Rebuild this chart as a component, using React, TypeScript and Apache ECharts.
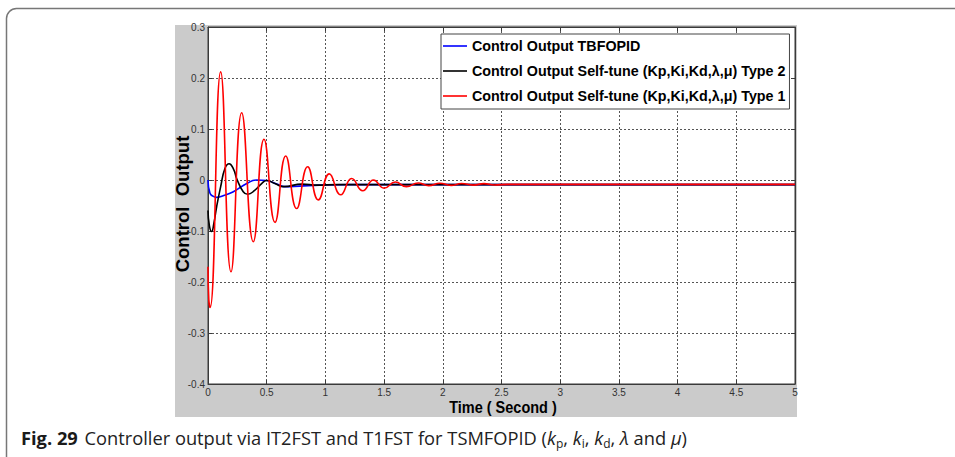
import React, { useEffect, useRef } from "react";
import * as echarts from "echarts";

const SANS = '"Liberation Sans", Arial, sans-serif';
const CAPTION_FONT = '"Open Sans", "Noto Sans", sans-serif';

const xRange = [0, 5];
const xStep = 0.5;
const yRange = [-0.4, 0.3];
const yStep = 0.1;

const seriesNames = [
  "Control Output TBFOPID",
  "Control Output Self-tune (Kp,Ki,Kd,\u03bb,\u03bc) Type 2",
  "Control Output Self-tune (Kp,Ki,Kd,\u03bb,\u03bc) Type 1",
];

// TBFOPID (blue)
const tbfopidPoints: [number, number][] = [
  [0, 0], [0.017, -0.026], [0.045, -0.032], [0.074, -0.034], [0.14, -0.03],
  [0.216, -0.023], [0.33, -0.007], [0.415, 0.0], [0.5, -0.001], [0.585, -0.008],
  [0.656, -0.013], [0.78, -0.012], [0.95, -0.01], [1.2, -0.009], [5, -0.009],
];

// Self-tune Type 2 (black)
const type2Points: [number, number][] = [
  [0, -0.06], [0.012, -0.09], [0.031, -0.101], [0.05, -0.085], [0.074, -0.052],
  [0.108, -0.013], [0.145, 0.023], [0.18, 0.032], [0.22, 0.02], [0.244, 0.003],
  [0.3, -0.023], [0.338, -0.028], [0.4, -0.02], [0.457, -0.007], [0.5, -0.001],
  [0.57, -0.007], [0.645, -0.013], [0.8, -0.008], [0.93, -0.01], [1.1, -0.009],
  [1.5, -0.009], [5, -0.009],
];

// Self-tune Type 1 (red)
const type1Points: [number, number][] = [
  [0, -0.17], [0.007, -0.235], [0.018, -0.25], [0.108, 0.212], [0.196, -0.18],
  [0.287, 0.132], [0.386, -0.121], [0.477, 0.08], [0.571, -0.083], [0.662, 0.047],
  [0.755, -0.056], [0.849, 0.026], [0.94, -0.039], [1.033, 0.012], [1.13, -0.029],
  [1.224, 0.003], [1.318, -0.021], [1.41, 0.0], [1.5, -0.016], [1.596, -0.004],
  [1.69, -0.013], [1.79, -0.006], [1.88, -0.011], [1.975, -0.0065], [2.07, -0.0105],
  [2.16, -0.007], [2.26, -0.01], [2.35, -0.0072], [2.44, -0.0098], [2.55, -0.0085],
  [5, -0.0085],
];

const seriesColors = ["#0000ff", "#000000", "#ff0000"];

export default function App() {
  const ref = useRef<HTMLDivElement>(null);
  useEffect(() => {
    if (!ref.current) return;
    const chart = echarts.init(ref.current, undefined, { renderer: "svg" });
    const axisColor = "#3a3a3a";
    const gridLine = { show: true, lineStyle: { color: "#555", type: [2, 2], width: 1 } };
    const baseX = {
      type: "value",
      min: xRange[0],
      max: xRange[1],
      interval: xStep,
      axisLine: { show: true, onZero: false, lineStyle: { color: axisColor } },
      axisTick: { show: true, inside: true, length: 4, lineStyle: { color: axisColor } },
    };
    const baseY = {
      type: "value",
      min: yRange[0],
      max: yRange[1],
      interval: yStep,
      axisLine: { show: true, onZero: false, lineStyle: { color: axisColor } },
      axisTick: { show: true, inside: true, length: 4, lineStyle: { color: axisColor } },
    };
    const datasets = [tbfopidPoints, type2Points, type1Points];
    chart.setOption({
      animation: false,
      backgroundColor: "#ffffff",
      grid: {
        left: 208, top: 27, right: 160, bottom: 73,
        show: true, backgroundColor: "#ffffff", borderColor: axisColor, borderWidth: 1,
      },
      xAxis: [
        {
          ...baseX,
          position: "bottom",
          axisLabel: { color: "#333", fontSize: 10, margin: 3, fontFamily: SANS },
          splitLine: gridLine,
        },
        { ...baseX, position: "top", axisLabel: { show: false }, splitLine: { show: false } },
      ],
      yAxis: [
        {
          ...baseY,
          position: "left",
          axisLabel: { color: "#333", fontSize: 10, margin: 3, fontFamily: SANS },
          splitLine: gridLine,
        },
        { ...baseY, position: "right", axisLabel: { show: false }, splitLine: { show: false } },
      ],
      legend: {
        orient: "vertical",
        left: 441,
        top: 34,
        padding: [5, 4, 6, 2],
        itemGap: 11,
        itemWidth: 24,
        itemHeight: 14,
        backgroundColor: "#ffffff",
        borderColor: "#444",
        borderWidth: 1,
        borderRadius: 0,
        textStyle: { fontFamily: SANS, fontWeight: "bold", fontSize: 14.3, color: "#000" },
        data: seriesNames.map((name) => ({ name, icon: "path://M0,0H24V1.6H0Z" })),
      },
      series: seriesNames.map((name, i) => ({
        name,
        type: "line",
        data: datasets[i],
        xAxisIndex: 0,
        yAxisIndex: 0,
        smooth: 0.5,
        symbol: "none",
        lineStyle: { color: seriesColors[i], width: 1.6 },
        itemStyle: { color: seriesColors[i] },
        z: 3 + i,
      })),
      graphic: [
        {
          type: "rect",
          z: -10,
          silent: true,
          shape: { x: 175, y: 25, width: 622, height: 392 },
          style: { fill: "#cbcbcb" },
        },
        {
          type: "rect",
          silent: true,
          shape: { x: 6.5, y: 8.5, width: 1000, height: 460, r: 10 },
          style: { fill: "none", stroke: "#777", lineWidth: 1.5 },
        },
        {
          type: "text",
          x: 503,
          y: 407,
          scaleY: 1.2,
          style: {
            text: "Time ( Second )",
            fontFamily: SANS,
            fontWeight: "bold",
            fontSize: 14.5,
            fill: "#000",
            align: "center",
            verticalAlign: "middle",
          },
        },
        {
          type: "text",
          x: 182,
          y: 204,
          rotation: Math.PI / 2,
          style: {
            text: "Control  Output",
            fontFamily: SANS,
            fontWeight: "bold",
            fontSize: 18.5,
            fill: "#000",
            align: "center",
            verticalAlign: "middle",
          },
        },
        {
          type: "text",
          x: 21,
          y: 437,
          style: {
            text:
              "{b|Fig. 29}  {r|Controller output via IT2FST and T1FST for TSMFOPID (}{i|k}{s|p}{r|, }{i|k}{s|i}{r|, }{i|k}{s|d}{r|, }{i|\u03bb}{r| and }{i|\u03bc}{r|)}",
            align: "left",
            verticalAlign: "middle",
            fill: "#222",
            rich: {
              b: { fontFamily: CAPTION_FONT, fontWeight: "bold", fontSize: 18.3, lineHeight: 24, fill: "#1a1a1a" },
              r: { fontFamily: CAPTION_FONT, fontSize: 18.3, lineHeight: 24, fill: "#222" },
              i: { fontFamily: CAPTION_FONT, fontStyle: "italic", fontSize: 18.3, lineHeight: 24, fill: "#222" },
              s: { fontFamily: CAPTION_FONT, fontSize: 12, lineHeight: 12, verticalAlign: "bottom", fill: "#222" },
            },
          },
        },
      ],
    });
    return () => chart.dispose();
  }, []);
  return (
    <div
      ref={ref}
      style={{ position: "absolute", left: 0, top: 0, width: 955, height: 457 }}
    />
  );
}
